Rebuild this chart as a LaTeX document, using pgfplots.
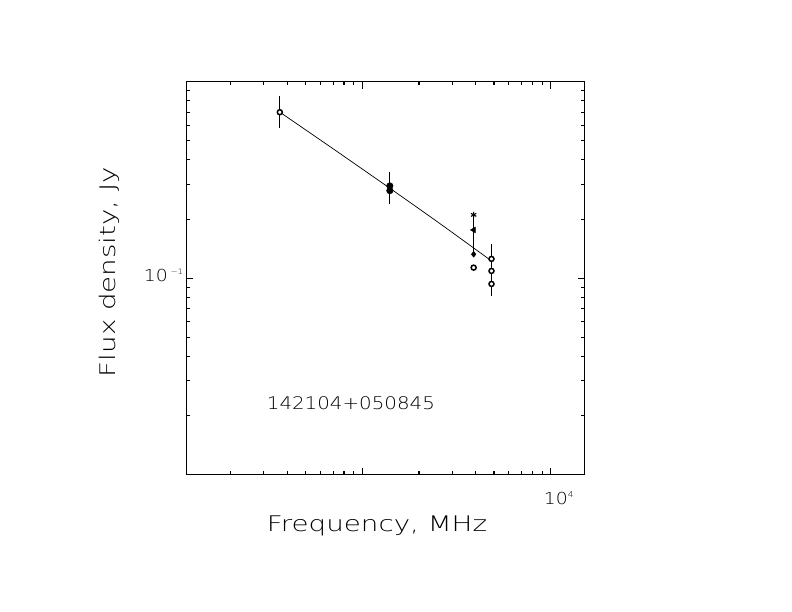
\documentclass[border=0pt]{standalone}
\usepackage{fontspec}
\setmainfont{DejaVu Sans}
\IfFontExistsTF{DejaVu Sans ExtraLight}{%
  \newfontfamily\labfont{DejaVu Sans ExtraLight}[FakeStretch=1.29]%
  \newfontfamily\numfont{DejaVu Sans ExtraLight}[FakeStretch=1.14]%
}{%
  \newfontfamily\labfont{DejaVu Sans}[FakeStretch=1.29]%
  \newfontfamily\numfont{DejaVu Sans}[FakeStretch=1.14]%
}
\usepackage{pgfplots}
\pgfplotsset{compat=1.18}

\begin{document}
\begin{tikzpicture}
\useasboundingbox (-186.3pt,-137.3pt) rectangle (605.7pt,474.7pt);
\begin{axis}[
  at={(0pt,0pt)}, anchor=south west,
  scale only axis, width=398.4pt, height=393pt,
  xmode=log, ymode=log,
  xmin=116.4, xmax=15150, ymin=0.01, ymax=1.0,
  axis line style={line width=1.1pt},
  tick style={line width=1.1pt, black},
  tick align=inside,
  major tick length=7pt, minor tick length=3.8pt,
  xtick={1000,10000},
  xticklabels={{},{10\raisebox{6.2pt}{\fontsize{8}{8}\selectfont 4}}},
  minor xtick={200,300,400,500,600,700,800,900,2000,3000,4000,5000,6000,7000,8000,9000},
  ytick={0.1},
  yticklabels={{10\,\raisebox{6.2pt}{\fontsize{7.5}{7.5}\selectfont −1}}},
  minor ytick={0.02,0.03,0.04,0.05,0.06,0.07,0.08,0.09,0.2,0.3,0.4,0.5,0.6,0.7,0.8,0.9},
  xticklabel style={font=\numfont\fontsize{16.5}{16.5}\selectfont, anchor=north, inner sep=0pt, yshift=-17pt, xshift=8pt},
  yticklabel style={font=\numfont\fontsize{16.5}{16.5}\selectfont, anchor=east, inner sep=0pt, xshift=-3pt, yshift=3pt},
  error bars/error bar style={line width=1.2pt, black},
  error bars/error mark=none,
]
% fitted spectrum
\addplot[black, line width=0.7pt, smooth, no marks] coordinates {
  (365,0.700) (668,0.470) (1400,0.287) (2563,0.1906) (4850,0.1224)};

% open circles with error bars
\addplot[only marks, mark=*, mark size=2.5pt,
  mark options={fill=white, draw=black, line width=1.5pt},
  error bars/.cd, y dir=both, y explicit]
  table[x=x, y=y, y error plus=ep, y error minus=em] {
x     y       ep      em
365   0.6995  0.150   0.116
4850  0.1089  0.040   0.0274
};
% open circles without error bars
\addplot[only marks, mark=*, mark size=2.5pt,
  mark options={fill=white, draw=black, line width=1.5pt}]
  table[x=x, y=y] {
x     y
3900  0.1132
4850  0.1254
4850  0.0935
};
% filled circles at 1400 MHz
\addplot[only marks, mark=*, mark size=3.3pt, black,
  error bars/.cd, y dir=both, y explicit]
  table[x=x, y=y, y error plus=ep, y error minus=em] {
x     y       ep      em
1400  0.2949  0.0538  0.0561
1400  0.2791  0       0
};
% triangle with error bar
\addplot[only marks, mark=triangle*, mark size=3.3pt, black,
  mark options={rotate=90},
  error bars/.cd, y dir=both, y explicit]
  table[x=x, y=y, y error plus=ep, y error minus=em] {
x     y       ep      em
3900  0.176   0.0375  0.0446
};
% star
\addplot[only marks, mark=asterisk, mark size=3pt, black,
  mark options={line width=1.1pt}]
  coordinates {(3900,0.210)};
% diamond
\addplot[only marks, mark=diamond*, mark size=3pt, black]
  coordinates {(3900,0.1324)};
\end{axis}
\node[anchor=base west, inner sep=0pt, font=\numfont\fontsize{17.4}{17.4}\selectfont] at (80.4pt,64.7pt) {142104+050845};
\node[anchor=base, inner sep=0pt, font=\labfont\fontsize{21.5}{21.5}\selectfont] at (190.7pt,-57pt) {Frequency, MHz};
\node[anchor=base, rotate=90, inner sep=0pt, font=\labfont\fontsize{21.5}{21.5}\selectfont] at (-70.6pt,202.7pt) {Flux density, Jy};
\end{tikzpicture}
\end{document}
